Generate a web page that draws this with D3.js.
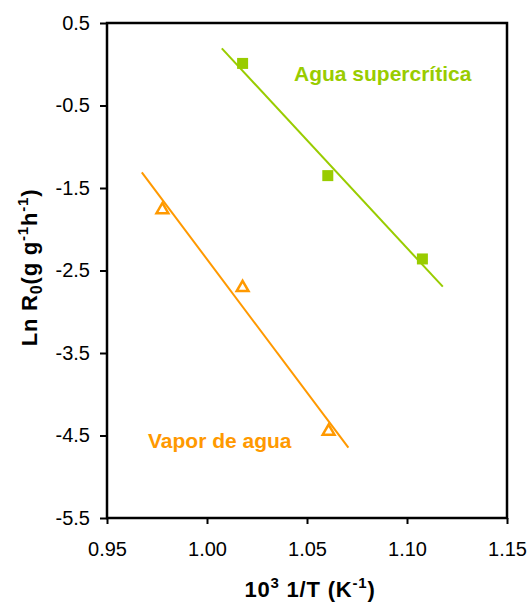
<!DOCTYPE html>
<html>
<head>
<meta charset="utf-8">
<script src="https://cdn.jsdelivr.net/npm/d3@7"></script>
<style>
  html, body { margin: 0; padding: 0; background: #fff; }
  svg { display: block; font-family: "Liberation Sans", Arial, sans-serif; }
</style>
</head>
<body>
<svg id="chart" width="531" height="605"></svg>
<script>
// Supercritical water: measured points (10^3/T, ln R0)
const superX = [1.0178, 1.0604, 1.1077];
const superY = [0.01, -1.35, -2.36];
// Water vapour: measured points
const vaporX = [0.9777, 1.0178, 1.0608];
const vaporY = [-1.752, -2.696, -4.437];
// Fitted trend lines (start and end points)
const superFitX = [1.0074, 1.1179];
const superFitY = [0.193, -2.696];
const vaporFitX = [0.9674, 1.0707];
const vaporFitY = [-1.310, -4.648];
// Axis ticks
const xTicks = [0.95, 1.00, 1.05, 1.10, 1.15];
const yTicks = [0.5, -0.5, -1.5, -2.5, -3.5, -4.5, -5.5];

const GREEN = "#99cc00";
const ORANGE = "#ff9900";

const svg = d3.select("#chart");
const plot = { left: 107, right: 507, top: 23, bottom: 518 };

const x = d3.scaleLinear().domain([0.95, 1.15]).range([plot.left, plot.right]);
const y = d3.scaleLinear().domain([-5.5, 0.5]).range([plot.bottom, plot.top]);

// Plain hyphen for negative numbers
const fmt = f => v => d3.format(f)(v).replace("\u2212", "-");

// Axes
const xAxis = d3.axisBottom(x).tickValues(xTicks).tickFormat(fmt(".2f"))
  .tickSizeInner(6).tickSizeOuter(0).tickPadding(18);
const yAxis = d3.axisLeft(y).tickValues(yTicks).tickFormat(fmt(".1f"))
  .tickSizeInner(7).tickSizeOuter(0).tickPadding(10);

const gx = svg.append("g").attr("transform", `translate(0,${plot.bottom})`).call(xAxis);
const gy = svg.append("g").attr("transform", `translate(${plot.left},0)`).call(yAxis);
[gx, gy].forEach(g => {
  g.select(".domain").remove();
  g.selectAll(".tick line").attr("stroke", "#000").attr("stroke-width", 2);
  g.selectAll(".tick text").attr("fill", "#000").style("font-size", "20px")
    .style("font-family", "'Liberation Sans', Arial, sans-serif");
});

// Plot frame
svg.append("rect")
  .attr("x", plot.left).attr("y", plot.top)
  .attr("width", plot.right - plot.left).attr("height", plot.bottom - plot.top)
  .attr("fill", "none").attr("stroke", "#000").attr("stroke-width", 2.5);

// Trend lines
const line = d3.line().x(d => x(d[0])).y(d => y(d[1]));
svg.append("path").datum(d3.zip(superFitX, superFitY))
  .attr("d", line).attr("fill", "none").attr("stroke", GREEN).attr("stroke-width", 2);
svg.append("path").datum(d3.zip(vaporFitX, vaporFitY))
  .attr("d", line).attr("fill", "none").attr("stroke", ORANGE).attr("stroke-width", 2);

// Supercritical water markers: filled squares
const sq = 11;
svg.append("g").selectAll("rect").data(d3.zip(superX, superY)).join("rect")
  .attr("x", d => x(d[0]) - sq / 2).attr("y", d => y(d[1]) - sq / 2)
  .attr("width", sq).attr("height", sq).attr("fill", GREEN);

// Water vapour markers: open triangles
const tri = d3.symbol().type(d3.symbolTriangle).size(60);
svg.append("g").selectAll("path").data(d3.zip(vaporX, vaporY)).join("path")
  .attr("d", tri)
  .attr("transform", d => `translate(${x(d[0])},${y(d[1]) + 1})`)
  .attr("fill", "none").attr("stroke", ORANGE).attr("stroke-width", 2.5)
  .attr("stroke-linejoin", "miter");

// Series labels
svg.append("text").attr("x", 294).attr("y", 81)
  .attr("fill", GREEN).style("font-size", "21px").style("font-weight", "bold")
  .text("Agua supercrítica");
svg.append("text").attr("x", 148).attr("y", 448)
  .attr("fill", ORANGE).style("font-size", "21px").style("font-weight", "bold")
  .text("Vapor de agua");

// X axis title
const xt = svg.append("text").attr("x", (plot.left + plot.right) / 2 + 3).attr("y", 597)
  .attr("text-anchor", "middle").style("font-size", "22px").style("font-weight", "bold")
  .style("letter-spacing", "0.8px");
xt.append("tspan").text("10");
xt.append("tspan").attr("dy", -9).style("font-size", "15px").text("3");
xt.append("tspan").attr("dy", 9).text(" 1/T (K");
xt.append("tspan").attr("dy", -9).style("font-size", "15px").text("-1");
xt.append("tspan").attr("dy", 9).text(")");

// Y axis title
const yt = svg.append("text")
  .attr("transform", `translate(37,${(plot.top + plot.bottom) / 2 - 3}) rotate(-90)`)
  .attr("text-anchor", "middle").style("font-size", "22px").style("font-weight", "bold")
  .style("letter-spacing", "0.8px");
yt.append("tspan").text("Ln R");
yt.append("tspan").attr("dy", 5).style("font-size", "16px").text("0");
yt.append("tspan").attr("dy", -5).text("(g g");
yt.append("tspan").attr("dy", -9).style("font-size", "15px").text("-1");
yt.append("tspan").attr("dy", 9).text("h");
yt.append("tspan").attr("dy", -9).style("font-size", "15px").text("-1");
yt.append("tspan").attr("dy", 9).text(")");
</script>
</body>
</html>
